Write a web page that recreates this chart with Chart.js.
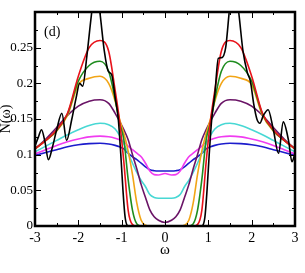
<!DOCTYPE html>
<html><head><meta charset="utf-8">
<script src="https://cdn.jsdelivr.net/npm/chart.js@4/dist/chart.umd.min.js"></script>
<style>html,body{margin:0;padding:0;background:#fff}</style>
</head><body>
<canvas id="c" width="305" height="273"></canvas>
<script>
// frequency grid for the smooth curves
const omega = [-3, -2.75, -2.5, -2.25, -2, -1.75, -1.5, -1.3, -1.15, -1.05, -0.95, -0.85, -0.75, -0.65, -0.55, -0.45, -0.35, -0.25, -0.15, 0,
  0.15, 0.25, 0.35, 0.45, 0.55, 0.65, 0.75, 0.85, 0.95, 1.05, 1.15, 1.3, 1.5, 1.75, 2, 2.25, 2.5, 2.75, 3];
const red = [0.108, 0.12, 0.135, 0.158, 0.21, 0.25, 0.26, 0.245, 0.19, 0.148, 0.09, 0.022, 0.002, 0, 0, 0, 0, 0, 0, 0,
  0, 0, 0, 0, 0, 0, 0.002, 0.022, 0.09, 0.148, 0.19, 0.245, 0.26, 0.25, 0.21, 0.158, 0.135, 0.12, 0.108];
const green = [0.108, 0.12, 0.134, 0.157, 0.203, 0.225, 0.231, 0.217, 0.178, 0.145, 0.121, 0.065, 0.022, 0.003, 0, 0, 0, 0, 0, 0,
  0, 0, 0, 0, 0, 0.003, 0.022, 0.065, 0.121, 0.145, 0.178, 0.217, 0.231, 0.225, 0.203, 0.157, 0.134, 0.12, 0.108];
const orange = [0.108, 0.12, 0.133, 0.155, 0.198, 0.207, 0.21, 0.2, 0.175, 0.15, 0.13, 0.105, 0.072, 0.032, 0.008, 0.001, 0, 0, 0, 0,
  0, 0, 0, 0.001, 0.008, 0.032, 0.072, 0.105, 0.13, 0.15, 0.175, 0.2, 0.21, 0.207, 0.198, 0.155, 0.133, 0.12, 0.108];
const purple = [0.108, 0.122, 0.138, 0.155, 0.168, 0.175, 0.177, 0.172, 0.158, 0.147, 0.135, 0.121, 0.1, 0.08, 0.058, 0.04, 0.0225, 0.013, 0.008, 0.005,
  0.008, 0.013, 0.0225, 0.04, 0.058, 0.08, 0.1, 0.121, 0.135, 0.147, 0.158, 0.172, 0.177, 0.175, 0.168, 0.155, 0.138, 0.122, 0.108];
const cyan = [0.104, 0.112, 0.12, 0.128, 0.135, 0.141, 0.144, 0.142, 0.136, 0.127, 0.115, 0.102, 0.088, 0.075, 0.064, 0.055, 0.044, 0.04, 0.039, 0.039,
  0.039, 0.04, 0.044, 0.055, 0.064, 0.075, 0.088, 0.102, 0.115, 0.127, 0.136, 0.142, 0.144, 0.141, 0.135, 0.128, 0.12, 0.112, 0.104];
const magenta = [0.101, 0.107, 0.113, 0.118, 0.122, 0.125, 0.126, 0.125, 0.123, 0.121, 0.118, 0.112, 0.107, 0.102, 0.097, 0.088, 0.077, 0.072, 0.0715, 0.0735,
  0.0715, 0.072, 0.077, 0.088, 0.097, 0.102, 0.107, 0.112, 0.118, 0.121, 0.123, 0.125, 0.126, 0.125, 0.122, 0.118, 0.113, 0.107, 0.101];
const blue = [0.099, 0.103, 0.107, 0.111, 0.114, 0.1155, 0.116, 0.115, 0.113, 0.111, 0.108, 0.102, 0.097, 0.093, 0.088, 0.083, 0.079, 0.0775, 0.077, 0.077,
  0.077, 0.0775, 0.079, 0.083, 0.088, 0.093, 0.097, 0.102, 0.108, 0.111, 0.113, 0.115, 0.116, 0.1155, 0.114, 0.111, 0.107, 0.103, 0.099];

// black curve has its own finer sampling (oscillations)
const blackOmega = [-3, -2.92, -2.85, -2.77, -2.69, -2.6, -2.5, -2.38, -2.27, -2.15, -2.05, -1.97, -1.9, -1.8, -1.7, -1.6, -1.5, -1.4, -1.31, -1.23, -1.15, -1.08, -1.02, -0.97, -0.92, -0.85, 0,
  0.85, 0.92, 0.97, 1.02, 1.08, 1.15, 1.23, 1.31, 1.4, 1.5, 1.6, 1.7, 1.8, 1.9, 1.97, 2.05, 2.12, 2.19, 2.27, 2.38, 2.5, 2.62, 2.73, 2.85, 2.93, 3];
const blackN = [0.112, 0.125, 0.135, 0.118, 0.093, 0.11, 0.135, 0.158, 0.12, 0.15, 0.18, 0.2, 0.196, 0.24, 0.295, 0.34, 0.298, 0.245, 0.217, 0.212, 0.18, 0.151, 0.1, 0.05, 0.012, 0, 0,
  0, 0.012, 0.05, 0.1, 0.151, 0.185, 0.235, 0.236, 0.25, 0.31, 0.34, 0.3, 0.245, 0.215, 0.203, 0.17, 0.15, 0.144, 0.155, 0.163, 0.135, 0.102, 0.146, 0.12, 0.09, 0.102];

const xTickLabels = ['-3', '-2', '-1', '0', '1', '2', '3'];
const yTickLabels = ['0', '0.05', '0.1', '0.15', '0.2', '0.25'];

const series = [
  {data: blackN, x: blackOmega, color: '#000000'},
  {data: red, x: omega, color: '#e8121a'},
  {data: green, x: omega, color: '#1e8c1e'},
  {data: orange, x: omega, color: '#f2a516'},
  {data: purple, x: omega, color: '#6a1466'},
  {data: cyan, x: omega, color: '#48d8d4'},
  {data: magenta, x: omega, color: '#f03cf0'},
  {data: blue, x: omega, color: '#1c1ccc'}
];

const serif = 'Liberation Serif, DejaVu Serif, serif';

const framePlugin = {
  id: 'frame',
  afterDatasetsDraw(chart) {
    const {ctx, chartArea: a, scales: {x, y}} = chart;
    ctx.save();
    ctx.strokeStyle = '#000';
    ctx.lineWidth = 1;
    ctx.beginPath();
    for (let i = 0; i <= 12; i++) {
      const v = -3 + i * 0.5;
      const px = Math.round(x.getPixelForValue(v)) + 0.5;
      const L = (i % 2 === 0) ? 6 : 3;
      ctx.moveTo(px, a.bottom); ctx.lineTo(px, a.bottom - L);
      ctx.moveTo(px, a.top); ctx.lineTo(px, a.top + L);
    }
    for (let i = 0; i <= 12; i++) {
      const v = i * 0.025;
      const py = Math.round(y.getPixelForValue(v)) + 0.5;
      const L = (i % 2 === 0) ? 6 : 3;
      ctx.moveTo(a.left, py); ctx.lineTo(a.left + L, py);
      ctx.moveTo(a.right, py); ctx.lineTo(a.right - L, py);
    }
    ctx.stroke();
    ctx.lineWidth = 2.5;
    ctx.strokeRect(a.left, a.top, a.right - a.left, a.bottom - a.top);
    ctx.fillStyle = '#000';
    ctx.font = '14px ' + serif;
    ctx.textBaseline = 'middle';
    ctx.fillText('(d)', a.left + 9, a.top + 20);
    ctx.restore();
  }
};

new Chart(document.getElementById('c'), {
  type: 'line',
  data: {
    datasets: series.map(s => ({
      data: s.data.map((v, i) => ({x: s.x[i], y: v})),
      borderColor: s.color,
      borderWidth: 1.6,
      pointRadius: 0,
      fill: false,
      cubicInterpolationMode: 'monotone'
    }))
  },
  options: {
    responsive: false,
    devicePixelRatio: 1,
    animation: false,
    layout: {padding: {top: 12, right: 10, left: 0, bottom: 14}},
    plugins: {legend: {display: false}, tooltip: {enabled: false}},
    scales: {
      x: {
        type: 'linear', min: -3, max: 3,
        grid: {display: false, drawTicks: false},
        border: {display: false},
        ticks: {stepSize: 1, padding: 4, color: '#000', font: {family: serif, size: 14},
          callback: (v) => { const i = Math.round(v + 3); return xTickLabels[i] ?? ''; }},
        title: {display: true, text: 'ω', color: '#000', font: {family: serif, size: 15}, padding: {top: 0, bottom: 0}},
        afterFit: (s) => { s.height = 33; }
      },
      y: {
        min: 0, max: 0.3,
        grid: {display: false, drawTicks: false},
        border: {display: false},
        ticks: {stepSize: 0.05, padding: 2, color: '#000', font: {family: serif, size: 13},
          callback: (v) => { const i = Math.round(v / 0.05); return yTickLabels[i] ?? ''; }},
        title: {display: true, text: 'N(ω)', color: '#000', font: {family: serif, size: 14}, padding: {top: -2, bottom: 0}},
        afterFit: (s) => { s.width = 35; }
      }
    }
  },
  plugins: [framePlugin]
});
</script>
</body></html>
